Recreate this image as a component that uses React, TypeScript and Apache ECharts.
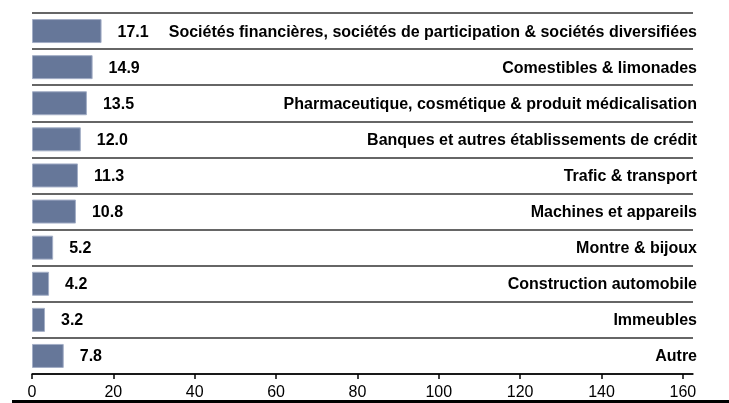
import React, { useEffect, useRef } from "react";
import * as echarts from "echarts";

const categories = [
  "Sociétés financières, sociétés de participation & sociétés diversifiées",
  "Comestibles & limonades",
  "Pharmaceutique, cosmétique & produit médicalisation",
  "Banques et autres établissements de crédit",
  "Trafic & transport",
  "Machines et appareils",
  "Montre & bijoux",
  "Construction automobile",
  "Immeubles",
  "Autre",
];
const values = [17.1, 14.9, 13.5, 12.0, 11.3, 10.8, 5.2, 4.2, 3.2, 7.8];
const tickValues = [0, 20, 40, 60, 80, 100, 120, 140, 160];

export default function App() {
  const ref = useRef<HTMLDivElement>(null);
  useEffect(() => {
    if (!ref.current) return;
    const chart = echarts.init(ref.current, null, { renderer: "svg" });
    const font = "'Liberation Sans', Arial, sans-serif";
    chart.setOption({
      animation: false,
      textStyle: { fontFamily: font },
      grid: { left: 32, right: 36, top: 13, bottom: 29, containLabel: false },
      xAxis: {
        type: "value",
        min: 0,
        max: 162.5,
        interval: 20,
        axisLine: { show: true, lineStyle: { color: "#000", width: 1.5 } },
        axisTick: {
          show: true,
          length: 5,
          customValues: tickValues,
          lineStyle: { color: "#000", width: 1.5 },
        },
        axisLabel: {
          customValues: tickValues,
          color: "#000",
          fontSize: 16,
          fontFamily: font,
          margin: 9,
          formatter: (v: number) => String(v),
        },
        splitLine: { show: false },
      },
      yAxis: {
        type: "category",
        data: categories,
        inverse: true,
        position: "right",
        axisLine: { show: false },
        axisTick: { show: false },
        axisLabel: {
          inside: true,
          margin: -4,
          color: "#000",
          fontWeight: "bold",
          fontSize: 16,
          fontFamily: font,
        },
        splitLine: { show: true, lineStyle: { color: "#333", width: 1.5 } },
      },
      series: [
        {
          type: "bar",
          data: values,
          barWidth: 24,
          itemStyle: { color: "#667799", borderColor: "#a3aec6", borderWidth: 1 },
          label: {
            show: true,
            position: "right",
            distance: 16,
            color: "#000",
            fontWeight: "bold",
            fontSize: 16,
            fontFamily: font,
            formatter: (p: any) => Number(p.value).toFixed(1),
          },
        },
      ],
      graphic: [
        {
          type: "line",
          shape: { x1: 12, y1: 401.5, x2: 729, y2: 401.5 },
          style: { stroke: "#000", lineWidth: 3 },
        },
      ],
    });
    return () => chart.dispose();
  }, []);
  return (
    <div
      ref={ref}
      style={{ position: "fixed", left: 0, top: 0, width: 729, height: 403 }}
    />
  );
}
